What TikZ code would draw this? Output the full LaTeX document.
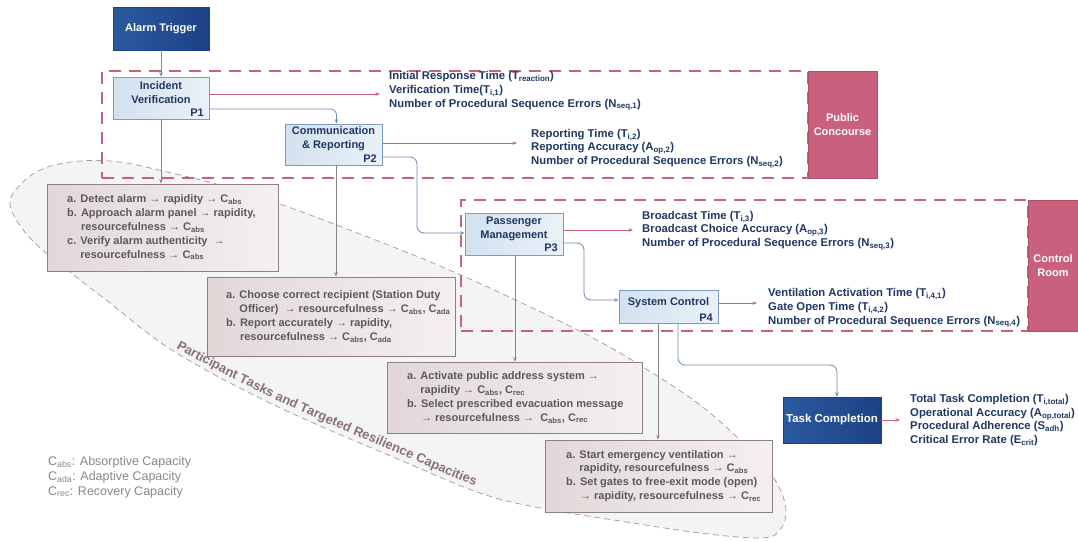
\documentclass[tikz,border=0pt]{standalone}
\usepackage{fontspec}
\setmainfont{Liberation Sans}
\usetikzlibrary{arrows.meta,decorations.text}
\definecolor{navy}{HTML}{1F3864}
\definecolor{pinkc}{HTML}{C8607E}
\definecolor{flowc}{HTML}{6F8CB0}
\definecolor{tline}{HTML}{8E8084}
\definecolor{tborder}{HTML}{8E7F80}
\definecolor{ttext}{HTML}{5A5A5A}
\definecolor{pborder}{HTML}{7C9CC4}
\definecolor{pfillA}{HTML}{D3E1F0}
\definecolor{pfillB}{HTML}{EAF1F8}
\definecolor{dbA}{HTML}{2B5AA0}
\definecolor{dbB}{HTML}{1D4185}
\definecolor{tfillA}{HTML}{E2D7D8}
\definecolor{tfillB}{HTML}{F4F0F0}
\definecolor{ellc}{HTML}{A09A9B}
\definecolor{ellfill}{HTML}{F5F4F4}
\definecolor{labc}{HTML}{8C6F73}
\definecolor{legc}{HTML}{8F8587}
\newcommand{\sbs}[1]{\textsubscript{#1}}
\tikzset{
 procbox/.style={draw=pborder, line width=0.8pt, left color=pfillA, right color=pfillB, inner sep=0pt},
 darkbox/.style={draw=dbB, line width=0.6pt, left color=dbA, right color=dbB, text=white, font=\fontsize{11}{13}\selectfont\bfseries, inner sep=0pt},
 proctxt/.style={text=navy, font=\fontsize{11}{14}\selectfont\bfseries, align=center, inner sep=0pt},
 plabel/.style={text=navy, font=\fontsize{11}{13}\selectfont\bfseries, inner sep=0pt, anchor=east},
 zone/.style={draw=pinkc, line width=2.3pt, dash pattern=on 12pt off 8pt, inner sep=0pt},
 zonelabel/.style={fill=pinkc, draw=pinkc!85!black, line width=0.5pt, text=white, font=\fontsize{11}{14}\selectfont\bfseries, align=center, inner sep=0pt},
 metric/.style={text=navy, font=\fontsize{11.3}{13.7}\selectfont\bfseries, align=left, inner sep=0pt, anchor=west},
 taskbox/.style={draw=tborder, line width=0.8pt, left color=tfillA, right color=tfillB, inner sep=0pt},
 tasktxt/.style={text=ttext, font=\fontsize{11}{13.8}\selectfont\bfseries, align=left, inner sep=0pt, anchor=west},
 legtxt/.style={text=legc, font=\fontsize{12.5}{14.8}\selectfont, align=left, inner sep=0pt, anchor=west},
 flow/.style={draw=flowc, line width=0.8pt, -{Stealth[length=4.5pt,width=3.5pt]}},
 metarr/.style={draw=pinkc, line width=0.8pt, -{Stealth[length=4.5pt,width=3.5pt]}},
 taskarr/.style={draw=tline, line width=0.8pt, -{Stealth[length=4.5pt,width=3.5pt]}},
}
\begin{document}
\begin{tikzpicture}[x=1pt, y=-1pt]
\useasboundingbox (0,0) rectangle (1078,541);
\fill[white] (0,0) rectangle (1078,541);

% egg-shaped group outline
\draw[draw=ellc, line width=0.7pt, dash pattern=on 6pt off 4pt, fill=ellfill]
  plot[smooth cycle, tension=0.6] coordinates {(10,205) (22,183) (45,168) (80,161) (120,162) (167,172) (220,185) (280,204) (360,234) (440,266) (520,302) (593,338) (643,367) (700,405) (745,445) (775,480) (786,510) (779,531) (760,538) (700,533) (620,521) (540,508) (480,493) (400,460) (300,417) (230,383) (175,352) (145,331) (110,303) (70,272) (30,238)};

% zones
\node[zone, minimum width=706pt, minimum height=107pt] (pcz) at (455,124.5) {};
\node[zonelabel, minimum width=69pt, minimum height=107pt] (pcl) at (842.5,124.5) {Public\\Concourse};
\node[zone, minimum width=567pt, minimum height=131pt] (crz) at (744.5,265.5) {};
\node[zonelabel, minimum width=50pt, minimum height=131pt] (crl) at (1053,265.5) {Control\\Room};

% main boxes
\node[darkbox, minimum width=96pt, minimum height=43pt] (at) at (161,28.5) {Alarm Trigger};
\node[procbox, minimum width=96pt, minimum height=42pt] (iv) at (161,98) {};
\node[proctxt] (ivt) at (161,92.5) {Incident\\Verification};
\node[plabel] (p1) at (204,112.5) {P1};
\node[procbox, minimum width=97pt, minimum height=41pt] (cr) at (333.5,144.5) {};
\node[proctxt] (crt) at (333.5,138.5) {Communication\\\& Reporting};
\node[plabel] (p2) at (377,158.5) {P2};
\node[procbox, minimum width=98pt, minimum height=42pt] (pm) at (514,234) {};
\node[proctxt] (pmt) at (514,228.5) {Passenger\\Management};
\node[plabel] (p3) at (558,248) {P3};
\node[procbox, minimum width=99pt, minimum height=33pt] (sc) at (668.5,306.5) {};
\node[proctxt] (sct) at (668.5,302.5) {System Control};
\node[plabel] (p4) at (713,318) {P4};
\node[darkbox, minimum width=98pt, minimum height=46pt, font=\fontsize{11.5}{13}\selectfont\bfseries] (tc) at (832,420) {Task Completion};

% metrics
\node[metric] (m1) at (389,91) {Initial Response Time (T\sbs{reaction})\\Verification Time(T\sbs{i,1})\\Number of Procedural Sequence Errors (N\sbs{seq,1})};
\node[metric] (m2) at (531,148.5) {Reporting Time (T\sbs{i,2})\\Reporting Accuracy (A\sbs{op,2})\\Number of Procedural Sequence Errors (N\sbs{seq,2})};
\node[metric] (m3) at (642,230.5) {Broadcast Time (T\sbs{i,3})\\Broadcast Choice Accuracy (A\sbs{op,3})\\Number of Procedural Sequence Errors (N\sbs{seq,3})};
\node[metric] (m4) at (768,308) {Ventilation Activation Time (T\sbs{i,4,1})\\Gate Open Time (T\sbs{i,4,2})\\Number of Procedural Sequence Errors (N\sbs{seq,4})};
\node[metric] (m5) at (910,420) {Total Task Completion (T\sbs{i,total})\\Operational Accuracy (A\sbs{op,total})\\Procedural Adherence (S\sbs{adh})\\Critical Error Rate (E\sbs{crit})};

% task boxes
\node[taskbox, minimum width=231pt, minimum height=87pt] (b1) at (162.5,227.5) {};
\node[tasktxt] (b1t) at (67,227.5) {a. Detect alarm → rapidity → C\sbs{abs}\\b. Approach alarm panel → rapidity,\\\hphantom{b. }resourcefulness → C\sbs{abs}\\c. Verify alarm authenticity \ →\\\hphantom{c. }resourcefulness → C\sbs{abs}};
\node[taskbox, minimum width=248pt, minimum height=79pt] (b2) at (331,316.5) {};
\node[tasktxt] (b2t) at (226,316.5) {a. Choose correct recipient (Station Duty\\\hphantom{a. }Officer) \ → resourcefulness → C\sbs{abs}, C\sbs{ada}\\b. Report accurately → rapidity,\\\hphantom{b. }resourcefulness → C\sbs{abs}, C\sbs{ada}};
\node[taskbox, minimum width=255pt, minimum height=71pt] (b3) at (514.5,397.5) {};
\node[tasktxt] (b3t) at (407,397.5) {a. Activate public address system →\\\hphantom{a. }rapidity → C\sbs{abs}, C\sbs{rec}\\b. Select prescribed evacuation message\\\hphantom{b. }→ resourcefulness → \ C\sbs{abs}, C\sbs{rec}};
\node[taskbox, minimum width=227pt, minimum height=72pt] (b4) at (658.5,476) {};
\node[tasktxt] (b4t) at (566,476) {a. Start emergency ventilation →\\\hphantom{a. }rapidity, resourcefulness → C\sbs{abs}\\b. Set gates to free-exit mode (open)\\\hphantom{b. }→ rapidity, resourcefulness → C\sbs{rec}};

% group label along the lower edge
\path[decorate, decoration={text along path, text align=left, text={|\fontsize{13}{15}\selectfont\bfseries\color{labc}|Participant Tasks and Targeted Resilience Capacities}}]
  plot[smooth, tension=0.6] coordinates {(176,348) (232,378) (302,412) (402,455) (482,488) (560,507)};

% legend
\node[legtxt] (leg) at (48,477) {C\sbs{abs}: Absorptive Capacity\\C\sbs{ada}: Adaptive Capacity\\C\sbs{rec}: Recovery Capacity};

% connectors
\draw[flow] (at.south) -- (iv.north);
\coordinate (m1a) at (380,94);
\draw[metarr] (iv.east |- m1a) -- (m1a);
\draw[flow, rounded corners=6pt] (iv.east |- 0,109) -| ([xshift=3pt]cr.north);
\coordinate (m2a) at (517,143);
\draw[metarr] (cr.east |- m2a) -- (m2a);
\draw[flow, rounded corners=7pt] (cr.east |- 0,157) -| (417,233) -- (pm.west |- 0,233);
\coordinate (m3a) at (633,230);
\draw[metarr] (pm.east |- m3a) -- (m3a);
\draw[flow, rounded corners=7pt] (pm.east |- 0,243) -| (584,300) -- (sc.west |- 0,300);
\coordinate (m4a) at (757,303);
\draw[metarr] (sc.east |- m4a) -- (m4a);
\draw[flow, rounded corners=7pt] (sc.south -| 678,0) |- (837,365) -- (tc.north -| 837,0);
\coordinate (m5a) at (900,420);
\draw[metarr] (tc.east) -- (m5a);
\draw[taskarr] (iv.south) -- (iv.south |- b1.north);
\draw[taskarr] (cr.south -| 336,0) -- (336,0 |- b2.north);
\draw[taskarr] (pm.south -| 515,0) -- (515,0 |- b3.north);
\draw[taskarr] (sc.south -| 658,0) -- (658,0 |- b4.north);
\end{tikzpicture}
\end{document}
